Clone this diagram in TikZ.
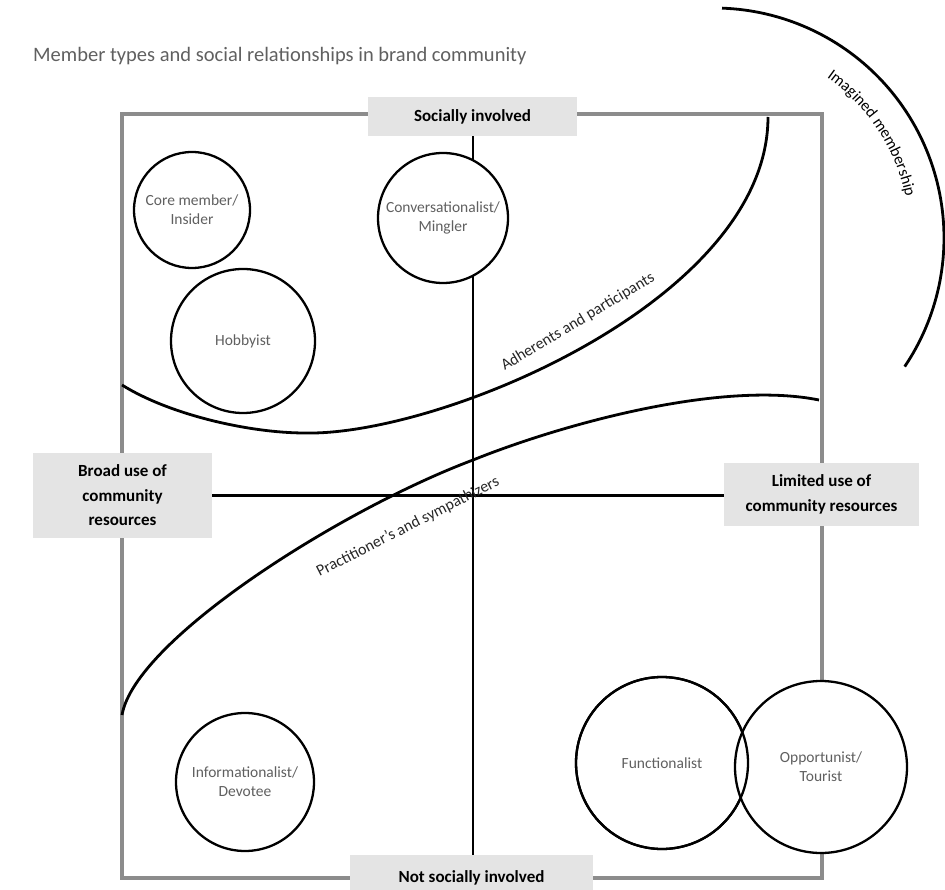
\documentclass[tikz,border=0pt]{standalone}
\usepackage{fontspec}
\setmainfont{Carlito}
\usetikzlibrary{decorations.text}
\definecolor{framegray}{HTML}{8C8C8C}
\definecolor{boxgray}{HTML}{E4E4E4}
\definecolor{softink}{HTML}{606060}
\begin{document}
\begin{tikzpicture}[x=1pt,y=-1pt,
  frameline/.style={draw=framegray,line width=4pt},
  axisbox/.style={fill=boxgray,inner sep=0pt,align=center,
    font=\bfseries\fontsize{17}{24.5}\selectfont},
  member/.style={circle,draw=black,line width=2.3pt,fill=white,inner sep=0pt,
    minimum size=#1,align=center,text=softink,font=\fontsize{15.5}{19}\selectfont},
  memberrim/.style={draw=black,line width=2.3pt},
  zone/.style={draw=black,line width=2.8pt},
  zonelabel/.style={font=\fontsize{16}{18}\selectfont,text=black!85,inner sep=0pt},
  vaxis/.style={draw=black,line width=2pt},
  haxis/.style={draw=black,line width=3.5pt},
]
\useasboundingbox (0,0) rectangle (945,890);

% title
\node[anchor=west,text=softink,font=\fontsize{20.5}{24}\selectfont,inner sep=0pt]
  (title) at (33,56) {Member types and social relationships in brand community};

% outer frame
\draw[frameline] (122,114) rectangle (822,878);

% zone boundaries
\draw[zone] (122,385) .. controls (170,415) and (250,433) .. (305,433)
  .. controls (440,436) and (768,300) .. (768,117);
\draw[zone] (122,715) .. controls (135,640) and (340,510) .. (473,460)
  .. controls (560,425) and (720,380) .. (819,400);

% imagined membership arc and its label
\draw[zone] plot[domain=-88:34,samples=90] ({714+230*cos(\x)},{238+230*sin(\x)});
\path[decorate,decoration={text along path,text align=center,
    text={|\fontsize{16}{18}\selectfont|Imagined membership}}]
  plot[domain=-63:-4,samples=70] ({714+196*cos(\x)},{238+196*sin(\x)});

% axis labels (the lower one runs past the bottom edge)
\node[axisbox,minimum width=209pt,minimum height=39pt] (social) at (472.5,116.5) {Socially involved};
\node[axisbox,minimum width=243pt,minimum height=46pt] (nonsocial) at (471.5,878) {Not socially involved};
\node[axisbox,minimum width=179pt,minimum height=85pt] (broad) at (122.5,495.5) {Broad use of\\community\\resources};
\node[axisbox,minimum width=195pt,minimum height=63pt] (limited) at (821.5,494.5) {Limited use of\\community resources};

% axes
\draw[vaxis] (social.south) -- (social.south |- nonsocial.north);
\draw[haxis] (broad.east) -- (broad.east -| limited.west);

% zone names
\node[zonelabel,rotate=31] (adherents) at (578,322) {Adherents and participants};
\node[zonelabel,rotate=27] (practitioners) at (408,527) {Practitioner's and sympathizers};

% member types
\node[member=116pt] (core) at (192,210) {Core member/\\Insider};
\node[member=130pt] (conv) at (443,218) {Conversationalist/\\Mingler};
\node[member=144pt] (hobby) at (243,341) {Hobbyist};
\node[member=138pt] (info) at (245,782) {Informationalist/\\Devotee};
\node[member=172pt] (func) at (662,763) {Functionalist};
\node[member=172pt] (opp) at (821,767) {Opportunist/\\Tourist};
\draw[memberrim] (func) circle[radius=86pt];
\end{tikzpicture}
\end{document}
